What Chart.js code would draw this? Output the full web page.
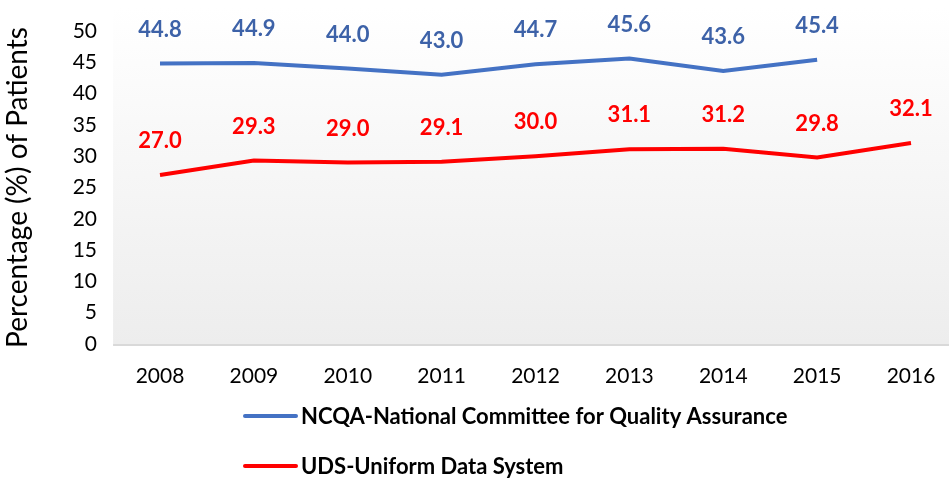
<!DOCTYPE html>
<html>
<head>
<meta charset="utf-8">
<script src="https://cdn.jsdelivr.net/npm/chart.js@4"></script>
<style>
  html, body { margin: 0; padding: 0; background: #ffffff; }
  #wrap { width: 949px; height: 482px; }
</style>
</head>
<body>
<div id="wrap"><canvas id="c" width="949" height="482"></canvas></div>
<script>
const years = ['2008', '2009', '2010', '2011', '2012', '2013', '2014', '2015', '2016'];
const ncqaValues = [44.8, 44.9, 44.0, 43.0, 44.7, 45.6, 43.6, 45.4, null];
const udsValues = [27.0, 29.3, 29.0, 29.1, 30.0, 31.1, 31.2, 29.8, 32.1];
const ncqaLabel = 'NCQA-National Committee for Quality Assurance';
const udsLabel = 'UDS-Uniform Data System';
const yTicks = [0, 5, 10, 15, 20, 25, 30, 35, 40, 45, 50];

const FONT = 'Lato, "Open Sans", sans-serif';

const bgPlugin = {
  id: 'bgPlugin',
  beforeDraw(chart) {
    const { ctx, chartArea, scales } = chart;
    const x = scales.x;
    const half = (x.getPixelForValue(1) - x.getPixelForValue(0)) / 2;
    const left = chartArea.left - half;
    const right = chart.width;
    const top = 8;
    const bottom = chartArea.bottom;
    ctx.save();
    const g = ctx.createLinearGradient(0, top, 0, bottom);
    g.addColorStop(0, '#ffffff');
    g.addColorStop(1, '#ededed');
    ctx.fillStyle = g;
    ctx.fillRect(left, top, right - left, bottom - top);
    ctx.strokeStyle = '#d9d9d9';
    ctx.lineWidth = 2;
    ctx.beginPath();
    ctx.moveTo(left, bottom + 1);
    ctx.lineTo(right, bottom + 1);
    ctx.stroke();
    ctx.restore();
  }
};

const labelPlugin = {
  id: 'labelPlugin',
  afterDatasetsDraw(chart) {
    const { ctx } = chart;
    ctx.save();
    ctx.font = 'bold 22px ' + FONT;
    ctx.textAlign = 'center';
    ctx.textBaseline = 'middle';
    chart.data.datasets.forEach((ds, i) => {
      const meta = chart.getDatasetMeta(i);
      ctx.fillStyle = ds.labelColor;
      meta.data.forEach((pt, j) => {
        const v = ds.data[j];
        if (v === null || v === undefined) return;
        ctx.fillText(v.toFixed(1), pt.x, pt.y - 34);
      });
    });
    ctx.restore();
  }
};

const legendPlugin = {
  id: 'legendPlugin',
  afterDraw(chart) {
    const { ctx } = chart;
    const rows = [416, 466];
    ctx.save();
    ctx.font = 'bold 22px ' + FONT;
    ctx.textAlign = 'left';
    ctx.textBaseline = 'middle';
    chart.data.datasets.forEach((ds, i) => {
      const y = rows[i];
      ctx.strokeStyle = ds.borderColor;
      ctx.lineWidth = 4;
      ctx.lineCap = 'round';
      ctx.beginPath();
      ctx.moveTo(245, y);
      ctx.lineTo(296, y);
      ctx.stroke();
      ctx.fillStyle = '#000000';
      ctx.fillText(ds.label, 301, y + 1);
    });
    ctx.restore();
  }
};

new Chart(document.getElementById('c'), {
  type: 'line',
  data: {
    labels: years,
    datasets: [
      {
        label: ncqaLabel,
        data: ncqaValues,
        borderColor: '#4472c4',
        labelColor: '#3d62a8',
        borderWidth: 4,
        pointRadius: 0,
        tension: 0,
        spanGaps: false
      },
      {
        label: udsLabel,
        data: udsValues,
        borderColor: '#ff0000',
        labelColor: '#ff0000',
        borderWidth: 4,
        pointRadius: 0,
        tension: 0
      }
    ]
  },
  options: {
    responsive: false,
    animation: false,
    layout: { padding: { top: 31, right: 38, bottom: 94, left: 0 } },
    plugins: {
      legend: { display: false },
      tooltip: { enabled: false }
    },
    scales: {
      x: {
        type: 'category',
        offset: false,
        grid: { display: false, drawTicks: false },
        border: { display: false },
        ticks: { color: '#000000', font: { family: FONT, size: 21 }, padding: 20, maxRotation: 0, autoSkip: false },
        afterFit(scale) { scale.height = 44; scale.paddingLeft = 0; scale.paddingRight = 0; }
      },
      y: {
        min: 0,
        max: 50,
        afterBuildTicks(scale) { scale.ticks = yTicks.map(v => ({ value: v })); },
        grid: { display: false, drawTicks: false },
        border: { display: false },
        ticks: { color: '#000000', font: { family: FONT, size: 21 }, padding: 63, autoSkip: false },
        afterFit(scale) { scale.width = 160; scale.paddingTop = 0; scale.paddingBottom = 0; },
        title: {
          display: true,
          text: 'Percentage (%) of Patients',
          color: '#000000',
          font: { family: FONT, size: 28 },
          padding: { top: 1, bottom: 0 }
        }
      }
    }
  },
  plugins: [bgPlugin, labelPlugin, legendPlugin]
});
</script>
</body>
</html>
